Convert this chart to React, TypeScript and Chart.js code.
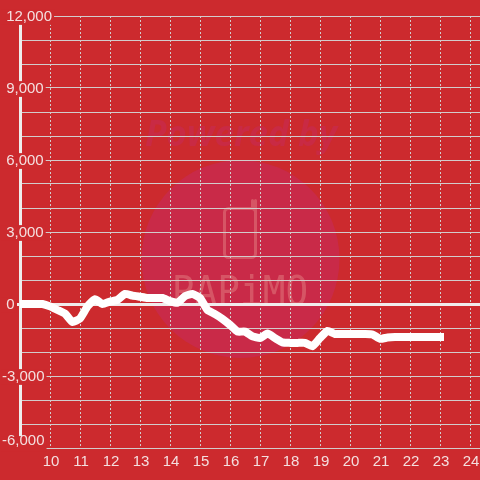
import React, { useEffect, useRef } from "react";
import { Chart, registerables } from "chart.js";

Chart.register(...registerables);

const hours = [
  9, 9.25, 9.5, 9.75, 10, 10.25, 10.5, 10.75, 11, 11.25, 11.5, 11.75, 12, 12.25, 12.5, 12.75,
  13, 13.25, 13.5, 13.75, 14, 14.25, 14.5, 14.75, 15, 15.25, 15.5, 15.75, 16, 16.25, 16.5, 16.75,
  17, 17.25, 17.5, 17.75, 18, 18.25, 18.5, 18.75, 19, 19.25, 19.5, 19.75, 20, 20.25, 20.5, 20.75,
  21, 21.25, 21.5, 21.75, 22, 22.25, 22.5, 22.75, 23,
];
const profit = [
  0, 0, 0, 0, -100, -250, -400, -750, -600, -100, 200, 0, 100, 170, 420, 350,
  300, 250, 250, 250, 120, 50, 330, 420, 250, -250, -420, -620, -870, -1150, -1150, -1350,
  -1420, -1230, -1420, -1600, -1620, -1620, -1620, -1760, -1420, -1120, -1250, -1250, -1250, -1250, -1250, -1270,
  -1450, -1400, -1380, -1380, -1380, -1380, -1380, -1380, -1380,
];
const yLabelEvery = 3000;
const xRange = [9, 24.333];
const yRange = [-6000, 12000];

const RED = "#cc2a2e";
const TEXT = "#f4dfdf";
const GRID = "#d2cccc";
const FONT = "'Liberation Sans', Arial, sans-serif";

const watermark = {
  id: "watermark",
  beforeDraw(chart: any) {
    const ctx = chart.ctx;
    ctx.save();
    ctx.fillStyle = RED;
    ctx.fillRect(0, 0, chart.width, chart.height);
    ctx.fillStyle = "#c92a48";
    ctx.beginPath();
    ctx.arc(240.5, 259, 99, 0, Math.PI * 2);
    ctx.fill();
    ctx.fillStyle = "#c92a44";
    ctx.font = "italic bold 35px 'Open Sans'";
    ctx.textAlign = "center";
    ctx.textBaseline = "alphabetic";
    ctx.fillText("Powered by", 241, 146);
    ctx.strokeStyle = "#d65565";
    ctx.lineWidth = 3;
    ctx.lineJoin = "round";
    ctx.lineCap = "round";
    ctx.beginPath();
    ctx.roundRect(224.5, 208.5, 31, 49, 4);
    ctx.moveTo(255.5, 212);
    ctx.lineTo(255.5, 200.5);
    ctx.moveTo(252.5, 200.5);
    ctx.lineTo(252.5, 208.5);
    ctx.stroke();
    ctx.fillStyle = "#d65565";
    ctx.font = "41px 'DejaVu Sans Mono'";
    ctx.textBaseline = "alphabetic";
    ctx.save();
    ctx.translate(240, 305);
    ctx.scale(0.92, 1);
    ctx.fillText("PAPiMO", 0, 0);
    ctx.restore();
    ctx.restore();

    for (const item of chart.scales.y.getLabelItems()) {
      if (!item.label || item.moved) continue;
      item.moved = true;
      const last = item.label === "-6,000";
      item.options.translation[1] += last ? -7 : 1;
      if (last && item.options.backdrop) item.options.backdrop.top += 3;
    }
    for (const item of chart.scales.x.getLabelItems()) {
      if (!item.label || item.moved) continue;
      item.moved = true;
      item.options.translation[0] += 1;
    }
  },
};

export default function App() {
  const ref = useRef<HTMLCanvasElement>(null);
  useEffect(() => {
    document.body.style.margin = "0";
    const chart = new Chart(ref.current as HTMLCanvasElement, {
      type: "line",
      data: {
        datasets: [
          {
            data: hours.map((h, i) => ({ x: h, y: profit[i] })),
            borderColor: "#ffffff",
            borderWidth: 8,
            borderCapStyle: "square",
            borderJoinStyle: "round",
            pointRadius: 0,
            tension: 0.15,
            fill: false,
          },
        ],
      },
      options: {
        animation: false,
        responsive: false,
        devicePixelRatio: 1,
        layout: { autoPadding: false, padding: { top: 16, left: 0, right: 0, bottom: 0 } },
        plugins: { legend: { display: false }, title: { display: false }, tooltip: { enabled: false } },
        scales: {
          x: {
            type: "linear",
            min: xRange[0],
            max: xRange[1],
            afterFit: (s: any) => {
              s.height = 32;
              s.paddingLeft = 0;
              s.paddingRight = 0;
              if (s._margins) {
                s._margins.left = 0;
                s._margins.right = 0;
              }
            },
            ticks: {
              stepSize: 1,
              includeBounds: false,
              autoSkip: false,
              maxRotation: 0,
              padding: 5,
              color: TEXT,
              font: { size: 15, family: FONT },
              callback: (v: any) => (v === xRange[0] ? "" : String(v)),
            },
            grid: { color: GRID, lineWidth: 1, drawTicks: false },
            border: { display: false, dash: [2, 2] },
          },
          y: {
            min: yRange[0],
            max: yRange[1],
            afterFit: (s: any) => {
              s.width = 20;
            },
            ticks: {
              stepSize: 1000,
              autoSkip: false,
              mirror: true,
              padding: -18,
              color: TEXT,
              font: { size: 15, family: FONT, lineHeight: 1.05 },
              showLabelBackdrop: (c: any) => c.tick && c.tick.value % yLabelEvery === 0,
              backdropColor: RED,
              backdropPadding: { top: 0, bottom: 0, left: 1, right: 2 },
              callback: (v: any) => {
                if (v % yLabelEvery !== 0) return "";
                const s = Number(v).toLocaleString("en-US");
                return v >= 0 ? " " + s : s;
              },
            },
            grid: {
              color: (c: any) => (c.tick && c.tick.value === 0 ? "#f0ecec" : GRID),
              lineWidth: (c: any) => (c.tick && c.tick.value === 0 ? 3 : 1),
              tickColor: (c: any) => (c.tick && c.tick.value === 0 ? "#f0ecec" : "rgba(0,0,0,0)"),
              tickLength: 3,
            },
            border: { display: true, color: "#eeeeee", width: 3 },
          },
        },
      } as any,
      plugins: [watermark],
    });
    return () => chart.destroy();
  }, []);
  return (
    <div style={{ position: "fixed", left: 0, top: 0, width: 480, height: 480 }}>
      <canvas ref={ref} width={480} height={480} style={{ display: "block" }} />
    </div>
  );
}
